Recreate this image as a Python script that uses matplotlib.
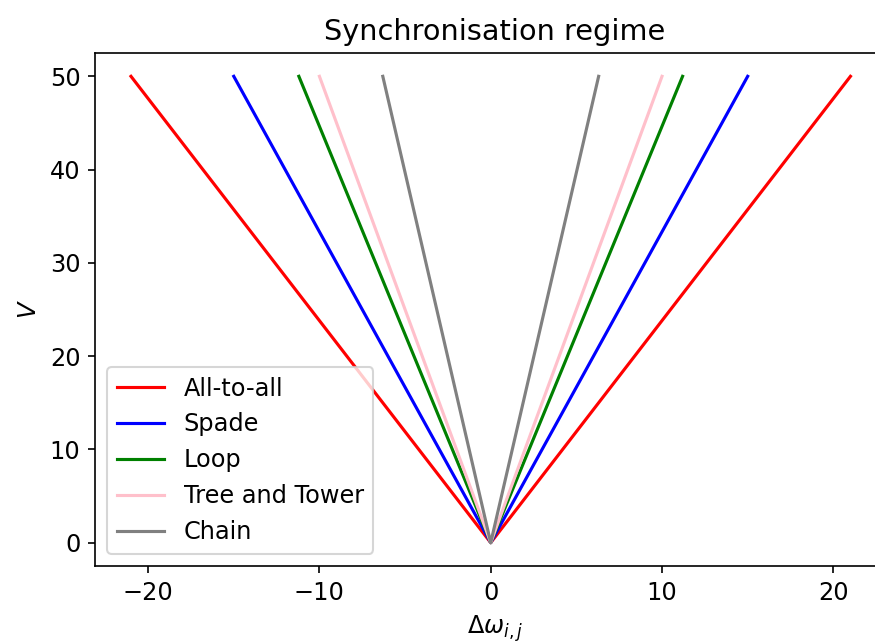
import numpy as np
import matplotlib.pyplot as plt

# synchronisation boundaries: |delta omega| reached at V = 50
labels = ['All-to-all', 'Spade', 'Loop', 'Tree and Tower', 'Chain']
colors = ['red', 'blue', 'green', 'pink', 'gray']
V = [50, 0, 50]
d_omega_edge = [21.0, 15.0, 11.2, 10.0, 6.3]

plt.rcParams['font.size'] = 11.5

D = 150
fig = plt.figure(figsize=(875 / D, 642 / D), dpi=D)
ax = fig.add_axes([95 / 875, 76 / 642, 800 / 875, 513 / 642])

for lab, col, d in zip(labels, colors, d_omega_edge):
    x = np.array([-d, 0, d])
    ax.plot(x, V, color=col, label=lab)

ax.set_xlim(-23.1, 23.6)
ax.set_title('Synchronisation regime')
ax.set_xlabel(r'$\Delta\omega_{i,j}$', labelpad=4)
ax.set_ylabel(r'$V$')
ax.legend(loc='lower left')

fig.savefig('out.png', dpi=D)
